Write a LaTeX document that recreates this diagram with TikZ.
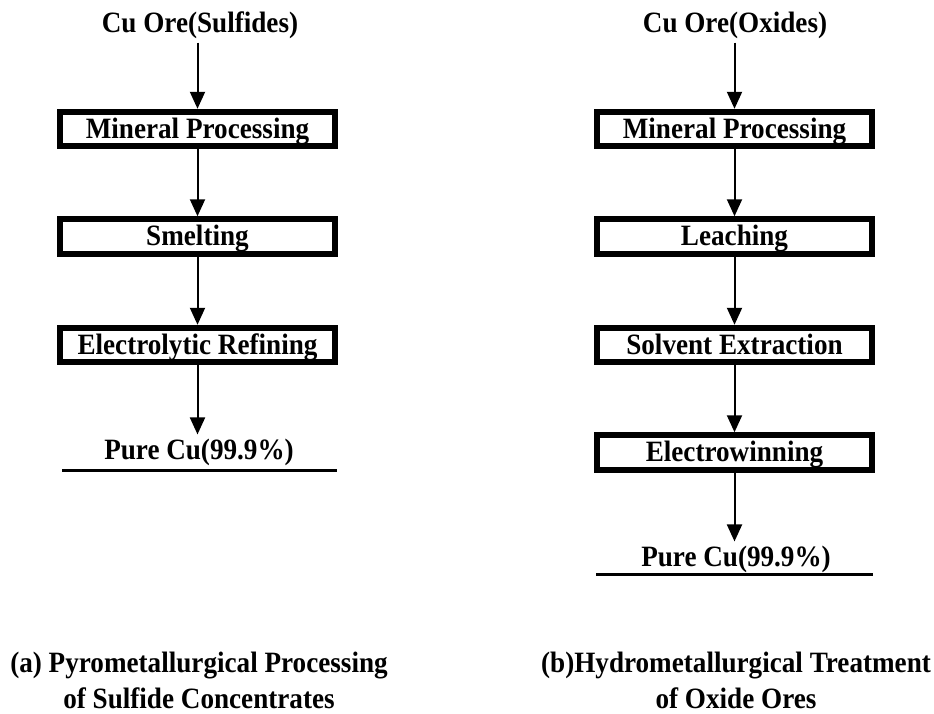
\documentclass[tikz,border=0pt]{standalone}
\usepackage{fontspec}
\setmainfont{Liberation Serif}[FakeStretch=0.92]
\usepackage{tikz}
\usetikzlibrary{arrows.meta, positioning}

\begin{document}
\begin{tikzpicture}[x=1pt, y=-1pt,
  font=\fontsize{29.5}{36}\selectfont\bfseries,
  stage/.style={draw, line width=6pt, minimum width=275pt, minimum height=34.5pt,
    inner sep=0pt, text height=20pt, text depth=2pt},
  txt/.style={inner sep=4pt, align=center},
  flow/.style={line width=2pt, arrows={-Triangle[length=17pt, width=15pt]}},
  rule/.style={line width=3pt}]
  \useasboundingbox (0,0) rectangle (934,713);

  % pyrometallurgical route
  \node[txt] (src1) at (200,25) {Cu Ore(Sulfides)};
  \node[stage] (mp1) at (197.5,129) {Mineral Processing};
  \node[stage] (sm1) [below = 67pt of mp1] {Smelting};
  \node[stage] (er1) [below = 68pt of sm1] {Electrolytic Refining};
  \node[txt] (pure1) at (199,452) {Pure Cu(99.9\%)};
  \draw[rule] (62,470) -- (337,470);
  \draw[flow] (src1.south -| mp1.north) -- (mp1);
  \draw[flow] (mp1) -- (sm1);
  \draw[flow] (sm1) -- (er1);
  \draw[flow] (er1) -- (er1.south |- pure1.north);

  % hydrometallurgical route
  \node[txt] (src2) at (735,25) {Cu Ore(Oxides)};
  \node[stage] (mp2) at (734.5,129) {Mineral Processing};
  \node[stage] (le2) [below = 67pt of mp2] {Leaching};
  \node[stage] (se2) [below = 68pt of le2] {Solvent Extraction};
  \node[stage] (ew2) [below = 67pt of se2] {Electrowinning};
  \node[txt] (pure2) at (736,559) {Pure Cu(99.9\%)};
  \draw[rule] (596,574) -- (873,574);
  \draw[flow] (src2.south -| mp2.north) -- (mp2);
  \draw[flow] (mp2) -- (le2);
  \draw[flow] (le2) -- (se2);
  \draw[flow] (se2) -- (ew2);
  \draw[flow] (ew2) -- (ew2.south |- pure2.north);

  % captions
  \node[txt, inner sep=0pt] (cap1) at (199,680) {(a) Pyrometallurgical Processing\\of Sulfide Concentrates};
  \node[txt, inner sep=0pt] (cap2) at (736,680) {(b)Hydrometallurgical Treatment\\of Oxide Ores};
\end{tikzpicture}
\end{document}
